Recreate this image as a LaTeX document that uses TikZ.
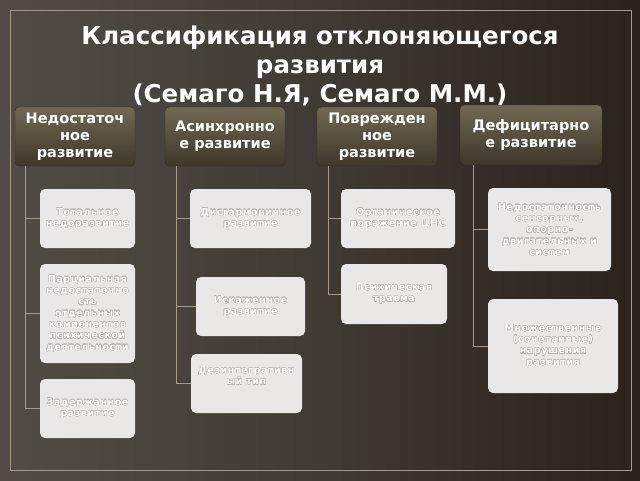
\documentclass[tikz,border=0pt]{standalone}
\usepackage{fontspec}
\setmainfont{DejaVu Sans}
\usepackage{contour}
\usetikzlibrary{positioning}
\contourlength{0.3pt}
\definecolor{bgleft}{HTML}{524C46}
\definecolor{bgmid}{HTML}{403A35}
\definecolor{bgright}{HTML}{2A221B}
\definecolor{frameline}{HTML}{A39A8A}
\definecolor{headtop}{HTML}{716853}
\definecolor{headbot}{HTML}{3E372B}
\definecolor{leaffill}{HTML}{E9E8E6}
\definecolor{haloc}{HTML}{B8B6B4}
\newcommand\halo[1]{\contour{haloc}{#1}}
\tikzset{
  head/.style={rounded corners=4pt, top color=headtop, bottom color=headbot,
    draw=headbot!80!black, line width=0.4pt, text=white, align=center,
    font=\bfseries\fontsize{14.5}{17}\selectfont, inner sep=0pt},
  leaf/.style={rounded corners=5pt, fill=leaffill, text=white, align=center,
    font=\bfseries\fontsize{9.5}{11.3}\selectfont\addfontfeature{LetterSpace=6}, inner sep=0pt},
  link/.style={draw=frameline, line width=0.7pt}
}
\begin{document}
\begin{tikzpicture}[x=1pt,y=-1pt]

% Background
\useasboundingbox (0,0) rectangle (640,480);
\shade[left color=bgleft, right color=bgright, middle color=bgmid] (0,0) rectangle (640,480);
\draw[frameline, line width=0.8pt] (10,10) rectangle (631,470);

% Title
\node[text=white, font=\bfseries\fontsize{24.5}{29}\selectfont, align=center] (title) at (320,66)
  {Классификация отклоняющегося\\развития\\(Семаго Н.Я, Семаго М.М.)};

% Headers
\node[head, minimum width=120pt, minimum height=59pt] (h1) at (75,136.5) {Недостаточ\\ное\\развитие};
\node[head, minimum width=120pt, minimum height=59pt] (h2) at (225,136.5) {Асинхронно\\е развитие};
\node[head, minimum width=120pt, minimum height=59pt] (h3) at (377,136.5) {Поврежден\\ное\\развитие};
\node[head, minimum width=142pt, minimum height=60pt] (h4) at (531,135) {Дефицитарно\\е развитие};

% Column 1
\node[leaf, minimum width=95pt, minimum height=59pt] (t1) at (87.5,218.5) {\halo{Тотальное}\\\halo{недоразвитие}};
\node[leaf, minimum width=95pt, minimum height=99pt] (p1) at (87.5,313.5)
  {\halo{Парциальная}\\\halo{недостаточно}\\\halo{сть}\\\halo{отдельных}\\\halo{компонентов}\\\halo{психической}\\\halo{деятельности}};
\node[leaf, minimum width=95pt, minimum height=59pt] (z1) at (87.5,408.5) {\halo{Задержанное}\\\halo{развитие}};

% Column 2
\node[leaf, minimum width=121pt, minimum height=59pt] (d2) at (250.5,218.5) {\halo{Дисгармоничное}\\\halo{развитие}};
\node[leaf, minimum width=109pt, minimum height=59pt] (i2) at (250.5,306.5) {\halo{Искаженное}\\\halo{развитие}};
\node[leaf, minimum width=111pt, minimum height=59pt] (g2) at (246.5,383.5) {\halo{Дезинтегративн}\\\halo{ый тип}\\[4pt]};

% Column 3
\node[leaf, minimum width=114pt, minimum height=59pt] (o3) at (398,218.5) {\halo{Органическое}\\\halo{поражение ЦНС}};
\node[leaf, minimum width=106pt, minimum height=60pt] (s3) at (394,294) {\halo{Психическая}\\\halo{травма}};

% Column 4
\node[leaf, minimum width=123pt, minimum height=83pt] (n4) at (549.5,229.5)
  {\halo{Недостаточность}\\\halo{сенсорных,}\\\halo{опорно-}\\\halo{двигательных и}\\\halo{систем}};
\node[leaf, minimum width=130pt, minimum height=94pt] (m4) at (553,346)
  {\halo{Множественные}\\\halo{(сочетанные)}\\\halo{нарушения}\\\halo{развития}};

% Links
\draw[link] ([xshift=11pt]h1.south west) |- (t1.west);
\draw[link] ([xshift=11pt]h1.south west) |- (p1.west);
\draw[link] ([xshift=11pt]h1.south west) |- (z1.west);
\draw[link] ([xshift=12pt]h2.south west) |- (d2.west);
\draw[link] ([xshift=12pt]h2.south west) |- (i2.west);
\draw[link] ([xshift=12pt]h2.south west) |- (g2.west);
\draw[link] ([xshift=12pt]h3.south west) |- (o3.west);
\draw[link] ([xshift=12pt]h3.south west) |- (s3.west);
\draw[link] ([xshift=14pt]h4.south west) |- (n4.west);
\draw[link] ([xshift=14pt]h4.south west) |- (m4.west);
\end{tikzpicture}
\end{document}
